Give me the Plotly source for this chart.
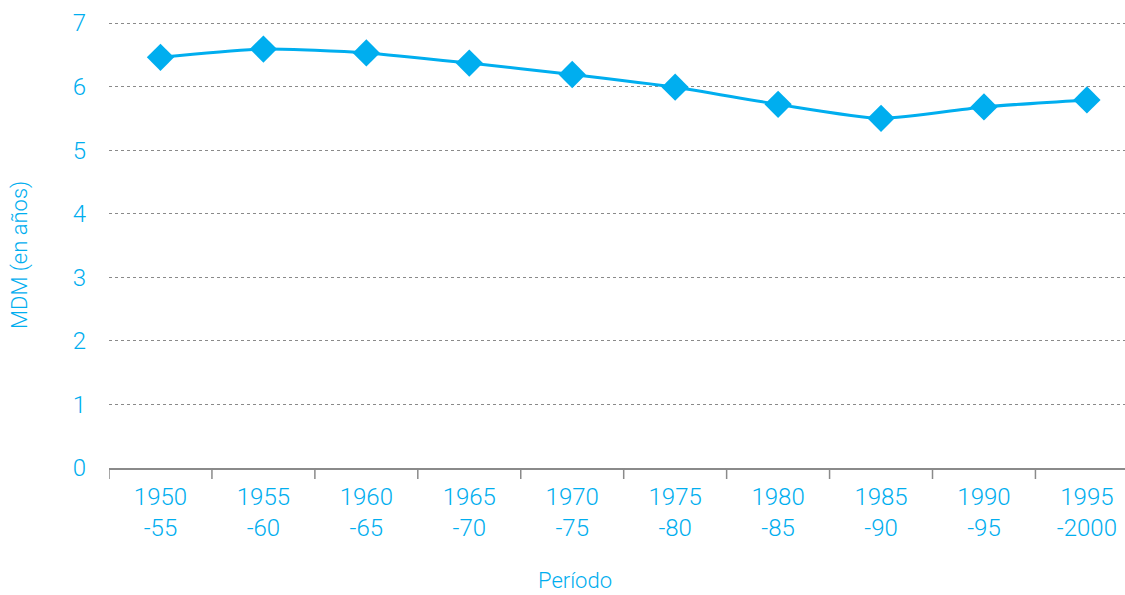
import plotly.graph_objects as go

# Mean duration of marriage (MDM) by five-year period
periodos = ["1950<br>-55", "1955<br>-60", "1960<br>-65", "1965<br>-70", "1970<br>-75",
            "1975<br>-80", "1980<br>-85", "1985<br>-90", "1990<br>-95", "1995<br>-2000"]
mdm = [6.46, 6.59, 6.53, 6.37, 6.19, 5.99, 5.72, 5.50, 5.68, 5.79]
y_ticks = [0, 1, 2, 3, 4, 5, 6, 7]

BLUE = "#00AEEF"
GREY = "#8a8a8a"
FONT = "Roboto"

PLOT_TOP, PLOT_BOTTOM, PLOT_LEFT = 10, 468, 109
Y_MAX = 7 * (PLOT_BOTTOM - PLOT_TOP) / (PLOT_BOTTOM - 23)

fig = go.Figure()
fig.add_trace(go.Scatter(
    x=list(range(len(periodos))),
    y=mdm,
    mode="lines+markers",
    line=dict(color=BLUE, width=3, shape="spline", smoothing=0.6),
    marker=dict(symbol="diamond", size=21, color=BLUE),
    hoverinfo="skip",
    cliponaxis=False,
))

fig.update_layout(
    width=1125,
    height=595,
    margin=dict(l=PLOT_LEFT, r=0, t=PLOT_TOP, b=595 - PLOT_BOTTOM),
    plot_bgcolor="white",
    paper_bgcolor="white",
    showlegend=False,
    font=dict(family=FONT, color=BLUE, size=24, weight=300),
    xaxis=dict(
        range=[-0.5, 9.37],
        tickmode="array",
        tickvals=list(range(len(periodos))),
        ticktext=periodos,
        showgrid=False,
        showline=True,
        linecolor=GREY,
        linewidth=1.5,
        ticks="",
        zeroline=False,
        tickfont=dict(family=FONT, color=BLUE, size=24, weight=300),
        ticklabelstandoff=6,
    ),
    yaxis=dict(
        range=[0, Y_MAX],
        tickvals=y_ticks,
        showgrid=True,
        gridcolor=GREY,
        griddash="dot",
        gridwidth=1.2,
        zeroline=False,
        showline=False,
        ticks="",
        tickfont=dict(family=FONT, color=BLUE, size=24, weight=300),
        ticklabelstandoff=22,
    ),
)

h = PLOT_BOTTOM - PLOT_TOP

# Tick marks on category boundaries
for i in range(len(periodos)):
    fig.add_shape(type="line", xref="x", yref="paper",
                  x0=i - 0.5, x1=i - 0.5, y0=0, y1=-11 / h,
                  line=dict(color=GREY, width=1.5), layer="above")

fig.add_annotation(text="Período", xref="paper", yref="paper",
                   x=(575 - PLOT_LEFT) / 1016, y=(PLOT_BOTTOM - 580) / h, showarrow=False,
                   xanchor="center", yanchor="middle",
                   font=dict(family=FONT, color=BLUE, size=22, weight=300))
fig.add_annotation(text="MDM (en años)", xref="paper", yref="paper",
                   x=-(PLOT_LEFT - 20) / 1016, y=(PLOT_BOTTOM - 255) / h, showarrow=False,
                   textangle=-90, xanchor="center", yanchor="middle",
                   font=dict(family=FONT, color=BLUE, size=22, weight=300))

fig.write_html("out.html")
